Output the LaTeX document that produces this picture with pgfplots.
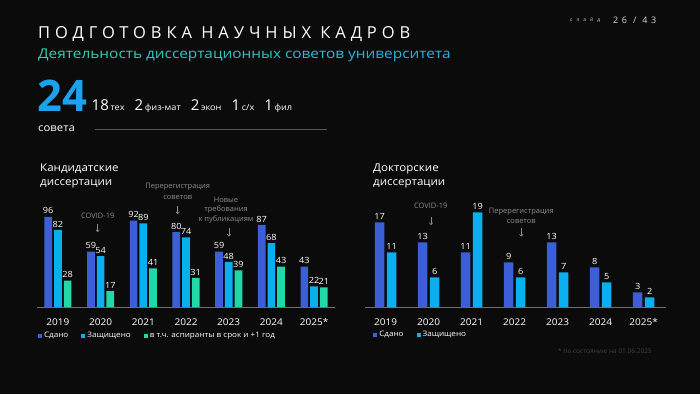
\documentclass[border=0pt]{standalone}
\usepackage{pgfplots}
\pgfplotsset{compat=1.18}
\usetikzlibrary{arrows.meta}
\usepackage{fontspec}
\setmainfont{Open Sans}
\newfontfamily\wide[FakeStretch=1.08]{Open Sans}
\newfontfamily\widesub[FakeStretch=1.14]{Open Sans}
\newfontfamily\spaced[LetterSpace=30]{Open Sans}
\newfontfamily\tinyspaced[LetterSpace=80]{Open Sans}
\newfontfamily\midspaced[LetterSpace=40]{Open Sans}
\definecolor{bg}{HTML}{0B0B0B}
\definecolor{c1}{HTML}{3C5FD8}
\definecolor{c2}{HTML}{0AAFF0}
\definecolor{c3}{HTML}{20D8A8}
\definecolor{big}{HTML}{1BA1EE}
\definecolor{ann}{HTML}{8C8C8C}
\definecolor{axl}{HTML}{6E6E6E}
\pgfplotstableread{
x sdano zasch asp
0 96 82 28
1 59 54 17
2 92 89 41
3 80 74 31
4 59 48 39
5 87 68 43
6 43 22 21
}\kand
\pgfplotstableread{
x sdano zasch
0 17 11
1 13 6
2 11 19
3 9 6
4 13 7
5 8 5
6 3 2
}\dokt
\pgfplotsset{
  mychart/.style={
    scale only axis, clip=false,
    ybar, ymin=0,
    axis y line=none, axis x line=bottom,
    x axis line style={-, draw=axl, line width=0.7pt},
    xtick={0,...,6},
    xticklabels={2019,2020,2021,2022,2023,2024,2025*},
    major tick length=0pt,
    xticklabel style={anchor=base, yshift=-18pt, text=white, font=\wide\fontsize{9.3}{10}\selectfont},
    /pgf/number format/assume math mode=true,
    nodes near coords,
    nodes near coords style={text=white, font=\wide\fontsize{8.5}{9}\selectfont, inner sep=2.5pt},
    legend style={legend columns=-1, draw=none, fill=none, text=white,
      font=\wide\fontsize{7.5}{8}\selectfont, inner sep=0pt, anchor=west,
      /tikz/every even column/.append style={column sep=11pt}},
    legend image code/.code={\fill (0pt,-2pt) rectangle (4pt,2pt);},
  }
}
\newcommand{\bign}[1]{{\fontsize{15}{15}\selectfont #1}}
\newcommand{\smt}[1]{{\wide\fontsize{8.5}{9}\selectfont #1}}
\begin{document}
\begin{tikzpicture}[x=1pt,y=-1pt]
\fill[bg] (0,0) rectangle (700,394);
\useasboundingbox (0,0) rectangle (700,394);
% header
\node[anchor=base west, inner sep=0, text=white, font=\spaced\fontsize{16.5}{17}\selectfont] at (38,38.3) {ПОДГОТОВКА НАУЧНЫХ КАДРОВ};
\node[anchor=base west, inner sep=0, font=\widesub\fontsize{13.5}{14}\selectfont] at (38,58.3) {\textcolor[HTML]{2FD2AE}{Деятельность} \textcolor[HTML]{2CC7C2}{диссертационных} \textcolor[HTML]{2ABDD6}{советов} \textcolor[HTML]{28B2E6}{университета}};
\node[anchor=base west, inner sep=0, text=white!80!black, font=\tinyspaced\fontsize{5}{5}\selectfont] at (570,21.5) {слайд};
\node[anchor=base west, inner sep=0, text=white!85!black, font=\midspaced\fontsize{9}{9}\selectfont] at (613,23.5) {26 / 43};
% 24 councils
\node[anchor=base west, inner sep=0, text=big, font=\fontsize{43.5}{44}\selectfont\bfseries] at (37,111.7) {24};
\node[anchor=base west, inner sep=0, text=white] at (91.5,110.7) {\bign{18}\,\smt{тех}\hspace{10pt}\bign{2}\,\smt{физ-мат}\hspace{10pt}\bign{2}\,\smt{экон}\hspace{10pt}\bign{1}\,\smt{с/х}\hspace{10pt}\bign{1}\,\smt{фил}};
\node[anchor=base west, inner sep=0, text=white, font=\wide\fontsize{10.5}{11}\selectfont] at (38,131) {совета};
\draw[draw=white!35!black, line width=0.8pt] (95,129.3) -- (327,129.3);
% chart titles
\node[anchor=base west, inner sep=0, text=white, font=\wide\fontsize{10.7}{11}\selectfont] at (40,171.7) {Кандидатские};
\node[anchor=base west, inner sep=0, text=white, font=\wide\fontsize{10.7}{11}\selectfont] at (40,185) {диссертации};
\node[anchor=base west, inner sep=0, text=white, font=\wide\fontsize{10.7}{11}\selectfont] at (373,171.7) {Докторские};
\node[anchor=base west, inner sep=0, text=white, font=\wide\fontsize{10.7}{11}\selectfont] at (373,185) {диссертации};
% left chart
\begin{axis}[mychart, at={(37pt,-307pt)}, anchor=south west,
  width=298pt, height=94pt, xmin=-0.49, xmax=6.49, ymax=100,
  bar width=7.7pt,
  legend style={at={(0.003,-0.305)}}]
\addplot[fill=c1, draw=none, bar shift=-9.7pt] table[x=x,y=sdano]{\kand};
\addplot[fill=c2, draw=none, bar shift=0pt] table[x=x,y=zasch]{\kand};
\addplot[fill=c3, draw=none, bar shift=9.7pt] table[x=x,y=asp]{\kand};
\legend{Сдано,Защищено,в т.ч. аспиранты в срок и +1 год}
\end{axis}
% right chart
\begin{axis}[mychart, at={(365pt,-307.3pt)}, anchor=south west,
  width=301pt, height=100pt, xmin=-0.48, xmax=6.52, ymax=20,
  bar width=9.5pt,
  legend style={at={(0.027,-0.275)}}]
\addplot[fill=c1, draw=none, bar shift=-6pt] table[x=x,y=sdano]{\dokt};
\addplot[fill=c2, draw=none, bar shift=6pt] table[x=x,y=zasch]{\dokt};
\legend{Сдано,Защищено}
\end{axis}
% annotations
\begin{scope}[every node/.style={text=ann, inner sep=0, font=\fontsize{7.5}{7.5}\selectfont}]
\node at (97.7,216) {COVID-19};
\draw[ann, line width=0.6pt, -{To[length=2.5pt,width=4pt]}] (97.7,223.5) -- (97.7,232);
\node at (177.7,187) {Перерегистрация};
\node at (177.7,197) {советов};
\draw[ann, line width=0.6pt, -{To[length=2.5pt,width=4pt]}] (177.7,205.5) -- (177.7,214);
\node at (226,200) {Новые};
\node at (226,210) {требования};
\node at (226,220) {к публикациям};
\draw[ann, line width=0.6pt, -{To[length=2.5pt,width=4pt]}] (229,228) -- (229,236.5);
\node at (430.7,206) {COVID-19};
\draw[ann, line width=0.6pt, -{To[length=2.5pt,width=4pt]}] (431,216.5) -- (431,225);
\node at (521.3,212) {Перерегистрация};
\node at (521.3,221.3) {советов};
\draw[ann, line width=0.6pt, -{To[length=2.5pt,width=4pt]}] (521.3,228) -- (521.3,236.5);
\end{scope}
\node[anchor=west, inner sep=0, text=white!25!black, font=\fontsize{6.5}{7}\selectfont] at (558,351) {* по состоянию на 01.06.2025};
\end{tikzpicture}
\end{document}
